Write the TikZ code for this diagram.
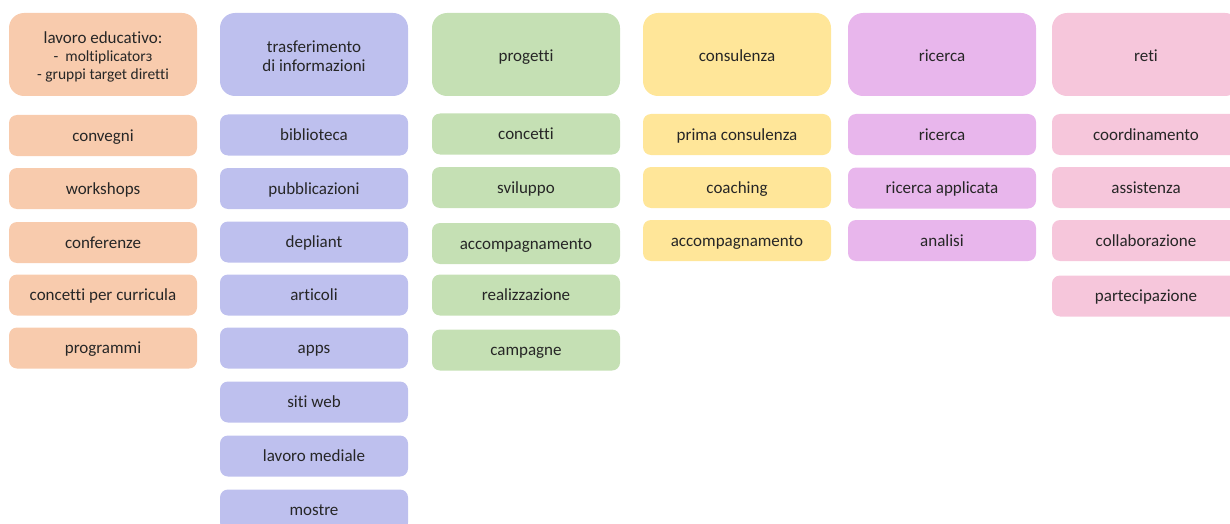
\documentclass[tikz,border=0pt]{standalone}
\usepackage{fontspec}
\setmainfont{Carlito}[Ligatures = NoCommon]

\definecolor{edu}{RGB}{248,203,173}
\definecolor{info}{RGB}{190,192,238}
\definecolor{prog}{RGB}{197,224,180}
\definecolor{cons}{RGB}{255,230,153}
\definecolor{ric}{RGB}{232,182,236}
\definecolor{reti}{RGB}{246,198,219}
\definecolor{txt}{RGB}{38,38,38}

\tikzset{
  head/.style = {rounded corners = 15pt, minimum width = 188pt, minimum height = 83pt,
    inner sep = 0pt, align = center, text = txt, font = \fontsize{17}{19}\selectfont},
  onehead/.style = {head, text height = 15pt, text depth = 1pt},
  item/.style = {rounded corners = 8pt, minimum width = 188pt, minimum height = 41pt,
    inner sep = 0pt, text = txt, text height = 14pt, text depth = 3pt,
    font = \fontsize{17}{19}\selectfont}
}

\begin{document}
\begin{tikzpicture}[x = 1pt, y = -1pt]
\useasboundingbox (0,0) rectangle (1230,524);
\clip (0,0) rectangle (1230,524);

% lavoro educativo
\node[head, fill = edu, text depth = 0pt] (edu) at (103,54.5) {\rule{0pt}{15pt}lavoro educativo:\\[-1pt]
  {\fontsize{15.5}{17}\selectfont -\ \ moltiplicatorз}\\[-1pt]
  {\fontsize{15.5}{17}\selectfont - gruppi target diretti}};
\node[item, fill = edu] (edu1) at (103,135.5) {convegni};
\node[item, fill = edu] (edu2) at (103,188.5) {workshops};
\node[item, fill = edu] (edu3) at (103,242.5) {conferenze};
\node[item, fill = edu] (edu4) at (103,295) {concetti per curricula};
\node[item, fill = edu] (edu5) at (103,348) {programmi};

% trasferimento di informazioni
\node[head, fill = info] (info) at (314,54.5) {\rule{0pt}{16pt}trasferimento\\di informazioni};
\node[item, fill = info] (info1) at (314,135) {biblioteca};
\node[item, fill = info] (info2) at (314,188.5) {pubblicazioni};
\node[item, fill = info] (info3) at (314,242) {depliant};
\node[item, fill = info] (info4) at (314,295) {articoli};
\node[item, fill = info] (info5) at (314,348) {apps};
\node[item, fill = info] (info6) at (314,402) {siti web};
\node[item, fill = info] (info7) at (314,456) {lavoro mediale};
\node[item, fill = info] (info8) at (314,510) {mostre};

% progetti
\node[onehead, fill = prog] (prog) at (526,54.5) {progetti};
\node[item, fill = prog] (prog1) at (526,134) {concetti};
\node[item, fill = prog] (prog2) at (526,187.5) {sviluppo};
\node[item, fill = prog] (prog3) at (526,243.5) {accompagnamento};
\node[item, fill = prog] (prog4) at (526,295) {realizzazione};
\node[item, fill = prog] (prog5) at (526,350) {campagne};

% consulenza
\node[onehead, fill = cons] (cons) at (737,54.5) {consulenza};
\node[item, fill = cons] (cons1) at (737,134.5) {prima consulenza};
\node[item, fill = cons] (cons2) at (737,187.5) {coaching};
\node[item, fill = cons] (cons3) at (737,240.5) {accompagnamento};

% ricerca
\node[onehead, fill = ric] (ric) at (942,54.5) {ricerca};
\node[item, fill = ric] (ric1) at (942,134.5) {ricerca};
\node[item, fill = ric] (ric2) at (942,188) {ricerca applicata};
\node[item, fill = ric] (ric3) at (942,240.5) {analisi};

% reti
\node[onehead, fill = reti] (reti) at (1146,54.5) {reti};
\node[item, fill = reti] (reti1) at (1146,134.5) {coordinamento};
\node[item, fill = reti] (reti2) at (1146,187.5) {assistenza};
\node[item, fill = reti] (reti3) at (1146,240.5) {collaborazione};
\node[item, fill = reti] (reti4) at (1146,296) {partecipazione};
\end{tikzpicture}
\end{document}
